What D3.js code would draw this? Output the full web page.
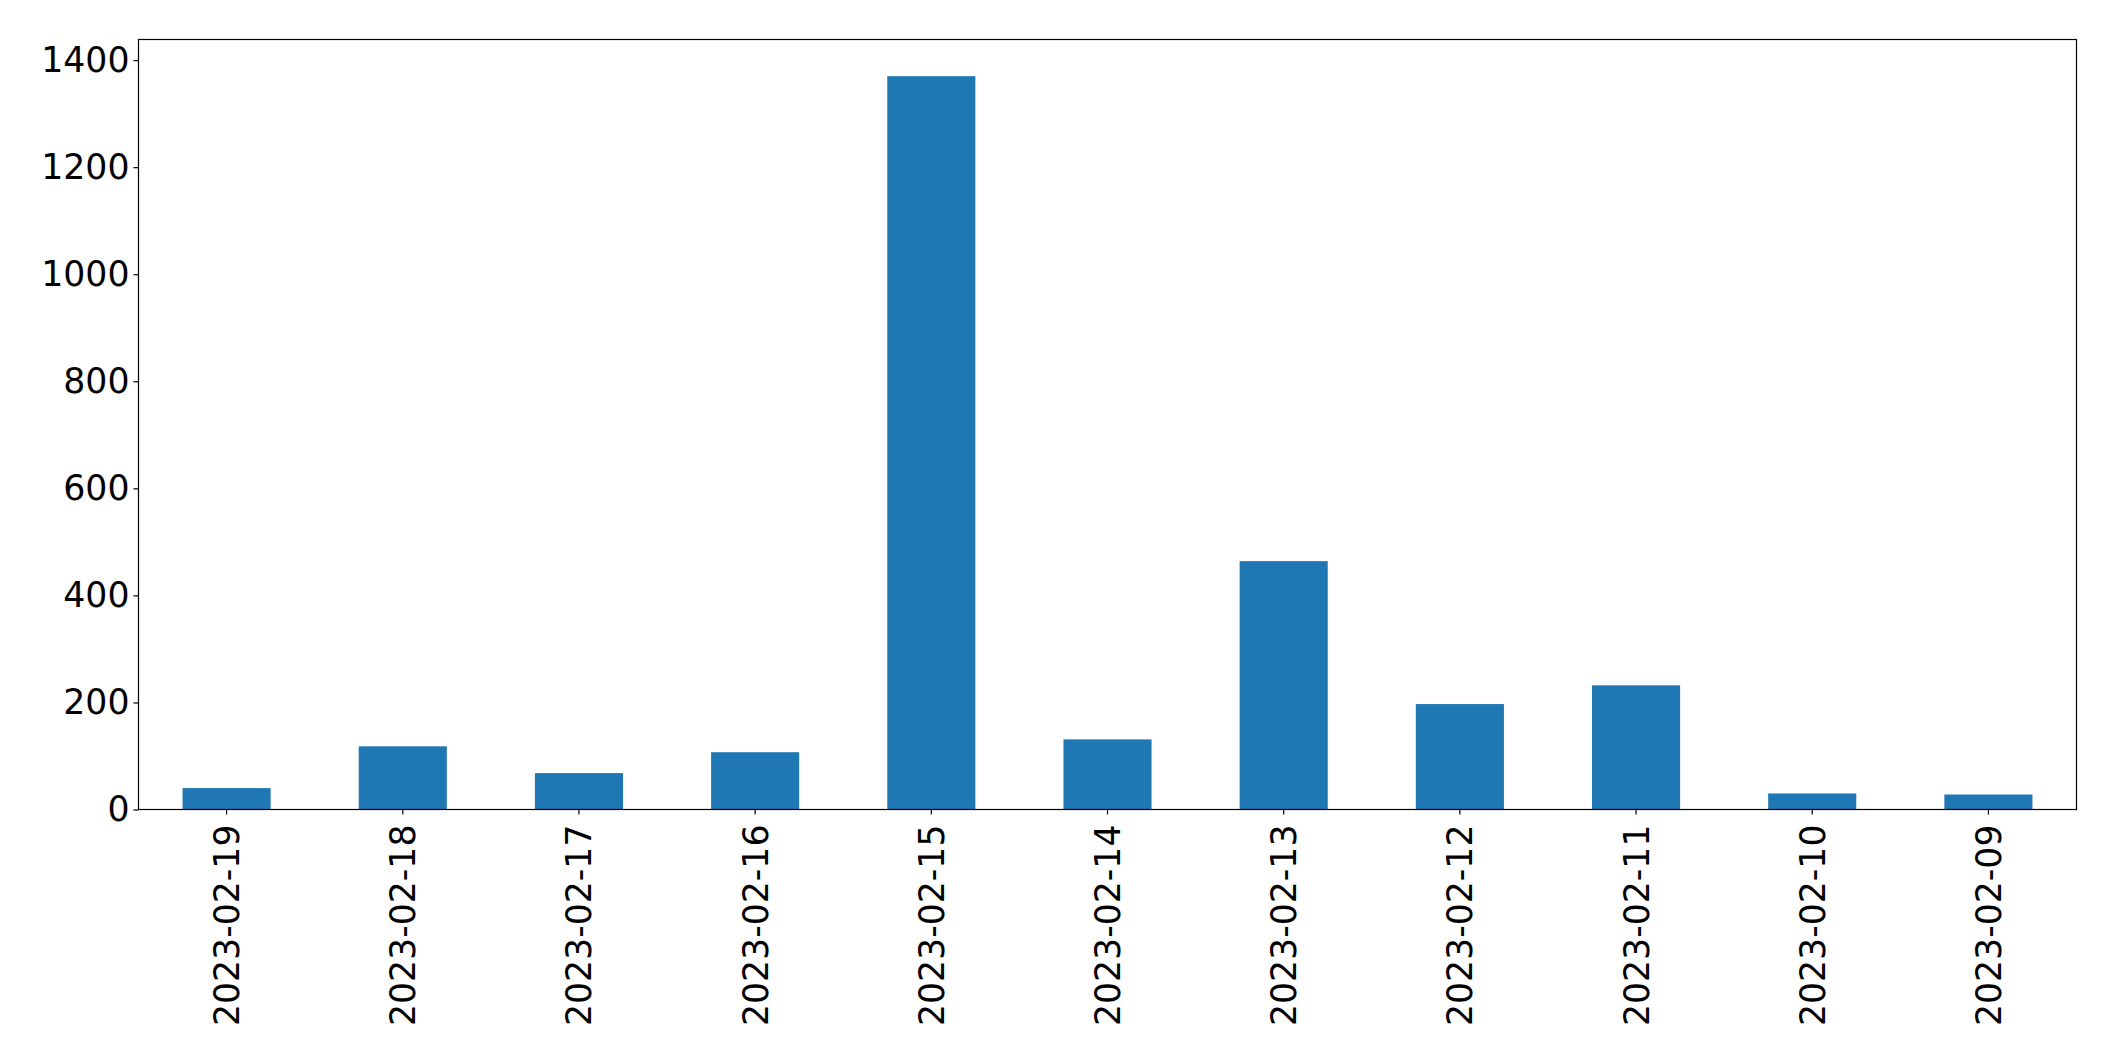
<!DOCTYPE html>
<html>
<head>
<meta charset="utf-8">
<script src="https://cdn.jsdelivr.net/npm/d3@7"></script>
<style>
  html, body { margin: 0; padding: 0; background: #ffffff; }
  svg { display: block; }
  text { font-family: "DejaVu Sans", sans-serif; fill: #000; }
</style>
</head>
<body>
<svg id="chart" width="2115" height="1061"></svg>
<script>
const categories = ["2023-02-19","2023-02-18","2023-02-17","2023-02-16","2023-02-15","2023-02-14","2023-02-13","2023-02-12","2023-02-11","2023-02-10","2023-02-09"];
const values = [40, 118, 68, 107, 1370, 131, 464, 197, 232, 30, 28];
const yTicks = [0, 200, 400, 600, 800, 1000, 1200, 1400];

(function () {
const mLeft = 138.5, mRight = 2076.5, mTop = 39.5, mBottom = 809.5;
const fontSize = 34.7;

const svg = d3.select("#chart");

const x = d3.scaleBand().domain(categories).range([mLeft, mRight]).paddingInner(0.5).paddingOuter(0.25);
const y = d3.scaleLinear().domain([0, d3.max(values) * 1.05]).range([mBottom, mTop]);

// bars
svg.append("g").selectAll("rect").data(categories).join("rect")
  .attr("x", d => x(d))
  .attr("width", x.bandwidth())
  .attr("y", (d, i) => y(values[i]))
  .attr("height", (d, i) => y(0) - y(values[i]))
  .attr("fill", "#1f77b4");

// frame
svg.append("rect").attr("x", mLeft).attr("y", mTop).attr("width", mRight - mLeft).attr("height", mBottom - mTop)
  .attr("fill", "none").attr("stroke", "#000").attr("stroke-width", 1.2);

// y axis
const yAxis = svg.append("g").attr("transform", `translate(${mLeft},0)`)
  .call(d3.axisLeft(y).tickValues(yTicks).tickSize(5).tickPadding(4).tickFormat(d3.format("d")));
yAxis.select(".domain").remove();
yAxis.selectAll("line").attr("stroke", "#000").attr("stroke-width", 1.2);
yAxis.selectAll("text").attr("font-size", fontSize).attr("font-family", "DejaVu Sans").attr("fill", "#000");

// x axis
const xAxis = svg.append("g").attr("transform", `translate(0,${mBottom})`)
  .call(d3.axisBottom(x).tickSize(5).tickPadding(0));
xAxis.select(".domain").remove();
xAxis.selectAll("line").attr("stroke", "#000").attr("stroke-width", 1.2);
xAxis.selectAll("text")
  .attr("font-size", fontSize).attr("font-family", "DejaVu Sans").attr("fill", "#000")
  .attr("text-anchor", "end")
  .attr("transform", "translate(0,15) rotate(-90)")
  .attr("x", 0).attr("y", 0)
  .attr("dy", "0.36em");
})();
</script>
</body>
</html>
